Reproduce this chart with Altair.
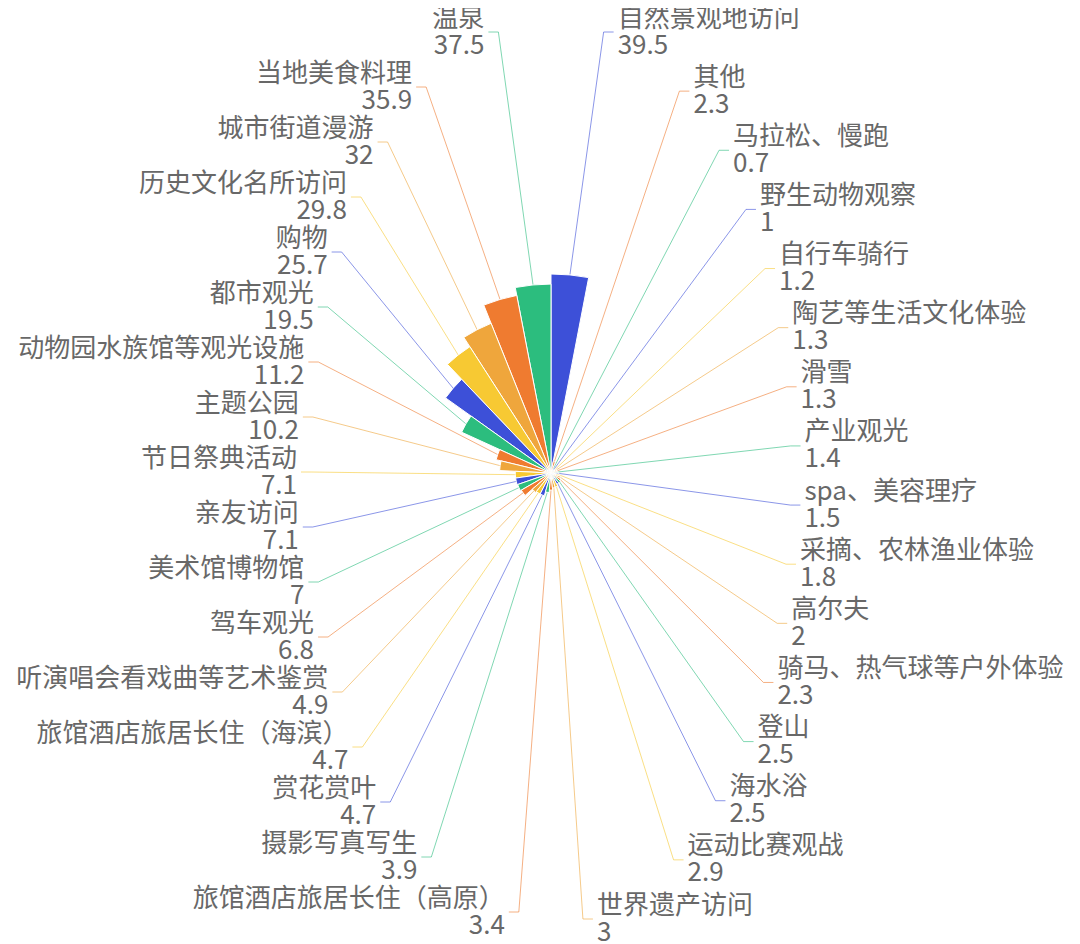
import math
import altair as alt
import pandas as pd

# ---------------- data (original series order) ----------------
names = [
    "自然景观地访问", "温泉", "当地美食料理", "城市街道漫游", "历史文化名所访问",
    "购物", "都市观光", "动物园水族馆等观光设施", "主题公园", "节日祭典活动",
    "亲友访问", "美术馆博物馆", "驾车观光", "听演唱会看戏曲等艺术鉴赏",
    "旅馆酒店旅居长住（海滨）", "赏花赏叶", "摄影写真写生", "旅馆酒店旅居长住（高原）",
    "世界遗产访问", "运动比赛观战", "海水浴", "登山", "骑马、热气球等户外体验",
    "高尔夫", "采摘、农林渔业体验", "spa、美容理疗", "产业观光", "滑雪",
    "陶艺等生活文化体验", "自行车骑行", "野生动物观察", "马拉松、慢跑", "其他",
]
values = [
    39.5, 37.5, 35.9, 32, 29.8,
    25.7, 19.5, 11.2, 10.2, 7.1,
    7.1, 7, 6.8, 4.9,
    4.7, 4.7, 3.9, 3.4,
    3, 2.9, 2.5, 2.5, 2.3,
    2, 1.8, 1.5, 1.4, 1.3,
    1.3, 1.2, 1, 0.7, 2.3,
]
palette = ["#3d50d8", "#2cbd7e", "#ef7b30", "#efa63c", "#f7c933"]

# ---------------- layout constants ----------------
W, H = 1064, 936          # chart area
CX, CY = 543, 465         # pie centre inside chart area
R_MAX = 199               # outer radius of largest sector
RA = 240                  # horizontal semi-axis of label ellipse
RB_TOP = 452
RB_BOTTOM = {"R": 450, "L": 443}
LEN2 = 10                 # horizontal part of leader line
GAP = 4                   # gap between line and text
TOP_MID = 24
BOTTOM_MID = {"R": 911, "L": 904}
LINE_H = 27
FONT = "Noto Sans CJK SC"

N = len(names)
vmax = max(values)
n_right = N // 2
n_left = N - n_right

slice_rows, line_rows, label_rows = [], [], []
for i, (name, v) in enumerate(zip(names, values)):
    k = (N - i) % N                      # clockwise position from 12 o'clock
    color = palette[i % len(palette)]
    slice_rows.append({"name": name, "value": v, "t0": k, "t1": k + 1, "color": color})

    theta = 2 * math.pi * (k + 0.5) / N
    r = v / vmax * R_MAX
    side = "R" if k < n_right else "L"
    if side == "R":
        j, cnt, d = k, n_right, 1
    else:
        j, cnt, d = N - 1 - k, n_left, -1
    y_mid = TOP_MID + j * (BOTTOM_MID[side] - TOP_MID) / (cnt - 1)
    dy = y_mid - CY
    rb = RB_TOP if dy < 0 else RB_BOTTOM[side]
    dx = RA * math.sqrt(max(0.0, 1 - dy * dy / (rb * rb)))

    pts = [
        (r * math.sin(theta), r * math.cos(theta)),
        (d * dx, -dy),
        (d * (dx + LEN2), -dy),
    ]
    for o, (px, py) in enumerate(pts):
        line_rows.append({"name": name, "ord": o, "x": px, "y": py, "color": color})

    tx = d * (dx + LEN2 + GAP)
    label_rows.append({"side": side, "x": tx, "y": -dy + LINE_H / 2, "text": name})
    label_rows.append({"side": side, "x": tx, "y": -dy - LINE_H / 2, "text": f"{v:g}"})

slices = pd.DataFrame(slice_rows)
lines_df = pd.DataFrame(line_rows)
labels_df = pd.DataFrame(label_rows)

xs = alt.Scale(domain=[-CX, W - CX], nice=False, zero=False)
ys = alt.Scale(domain=[-(H - CY), CY], nice=False, zero=False)

line_layer = alt.Chart(lines_df).mark_line(strokeWidth=1, opacity=0.6).encode(
    x=alt.X("x:Q", scale=xs, axis=None),
    y=alt.Y("y:Q", scale=ys, axis=None),
    detail="name:N",
    order="ord:Q",
    color=alt.Color("color:N", scale=None),
)

arc_layer = alt.Chart(slices).mark_arc(stroke="white", strokeWidth=1).encode(
    x=alt.XDatum(0, type="quantitative", scale=xs, axis=None),
    y=alt.YDatum(0, type="quantitative", scale=ys, axis=None),
    theta=alt.Theta("t0:Q", stack=False,
                    scale=alt.Scale(domain=[0, N], range=[0, 2 * math.pi], zero=False, nice=False)),
    theta2="t1:Q",
    radius=alt.Radius("value:Q", scale=alt.Scale(type="linear", zero=True,
                                                  domain=[0, vmax], range=[0, R_MAX])),
    color=alt.Color("color:N", scale=None),
)

def text_layer(side, align):
    return alt.Chart(labels_df).transform_filter(
        alt.datum.side == side
    ).mark_text(font=FONT, fontSize=26, color="#686868", align=align,
                baseline="middle").encode(
        x=alt.X("x:Q", scale=xs, axis=None),
        y=alt.Y("y:Q", scale=ys, axis=None),
        text="text:N",
    )

chart = alt.layer(
    line_layer, arc_layer, text_layer("R", "left"), text_layer("L", "right")
).properties(
    width=W, height=H, padding=0, autosize="none"
).configure_view(stroke=None)

chart.save("out.html", embed_options={"renderer": "svg", "actions": False})
